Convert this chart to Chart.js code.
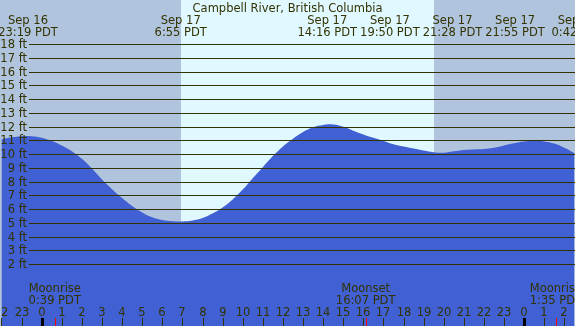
<!DOCTYPE html>
<html>
<head>
<meta charset="utf-8">
<script src="https://cdn.jsdelivr.net/npm/chart.js@4.4.1/dist/chart.umd.min.js"></script>
<style>
  html, body { margin: 0; padding: 0; background: #b0c4de; overflow: hidden; }
  canvas { display: block; }
</style>
</head>
<body>
<canvas id="tideChart" width="575" height="326"></canvas>
<script>
// === DATA (hours counted from Sep 17 0:00 PDT, heights in feet)
const hours = [-2, -1.5, -1, -0.5, 0, 0.5, 1, 1.5, 2, 2.5, 3, 3.5, 4, 4.5, 5, 5.5, 6, 6.5, 7, 7.5,
  8, 8.5, 9, 9.5, 10, 10.5, 11, 11.5, 12, 12.5, 13, 13.5, 14, 14.5, 15, 15.5, 16, 16.5, 17, 17.5,
  18, 18.5, 19, 19.5, 20, 20.5, 21, 21.5, 22, 22.5, 23, 23.5, 24, 24.5, 25, 25.5, 26, 26.5];
const heightFt = [11.08, 11.22, 11.3, 11.3, 11.18, 10.95, 10.62, 10.2, 9.65, 8.95, 8.15, 7.45, 6.8, 6.22, 5.75, 5.4, 5.2, 5.11, 5.1, 5.17,
  5.36, 5.68, 6.12, 6.7, 7.42, 8.25, 9.05, 9.85, 10.55, 11.12, 11.6, 11.95, 12.12, 12.15, 11.98, 11.7, 11.43, 11.18, 10.95, 10.72,
  10.55, 10.4, 10.26, 10.14, 10.1, 10.2, 10.3, 10.34, 10.37, 10.46, 10.63, 10.79, 10.91, 10.97, 10.92, 10.76, 10.46, 10.07];

const ftTicks = [2, 3, 4, 5, 6, 7, 8, 9, 10, 11, 12, 13, 14, 15, 16, 17, 18];
const hourTicks = [-2, -1, 0, 1, 2, 3, 4, 5, 6, 7, 8, 9, 10, 11, 12, 13, 14, 15, 16, 17, 18, 19, 20, 21, 22, 23, 24, 25, 26];
const hourLabels = ['22', '23', '0', '1', '2', '3', '4', '5', '6', '7', '8', '9', '10', '11', '12', '13', '14', '15', '16', '17', '18', '19', '20', '21', '22', '23', '0', '1', '2'];

const sunrise = 6 + 55 / 60;
const sunset = 19 + 31 / 60;

const eventTimes = [-41 / 60, 6 + 55 / 60, 14 + 16 / 60, 19 + 50 / 60, 21 + 28 / 60, 21 + 55 / 60, 24 + 42 / 60];
const eventDates = ['Sep 16', 'Sep 17', 'Sep 17', 'Sep 17', 'Sep 17', 'Sep 17', 'Sep 18'];
const eventClock = ['23:19 PDT', '6:55 PDT', '14:16 PDT', '19:50 PDT', '21:28 PDT', '21:55 PDT', '0:42 PDT'];

const moonTimes = [39 / 60, 16 + 7 / 60, 25 + 35 / 60];
const moonNames = ['Moonrise', 'Moonset', 'Moonrise'];
const moonClock = ['0:39 PDT', '16:07 PDT', '1:35 PDT'];

const title = 'Campbell River, British Columbia';

// ====== COLOURS / FONT
const NIGHT = '#b0c4de';
const DAY = '#e0f8ff';
const WATER = '#4060d4';
const INK = '#333300';
const FONT = '11.5px "DejaVu Sans"';

// spread overlapping labels around the mean of their wanted positions
function spreadLabels(xs, w) {
  let groups = xs.map(x => ({ sum: x, n: 1 }));
  let merged = true;
  while (merged) {
    merged = false;
    for (let i = 0; i < groups.length - 1; i++) {
      const a = groups[i], b = groups[i + 1];
      const ca = a.sum / a.n, cb = b.sum / b.n;
      if (ca + a.n * w / 2 > cb - b.n * w / 2) {
        groups.splice(i, 2, { sum: a.sum + b.sum, n: a.n + b.n });
        merged = true;
        break;
      }
    }
  }
  const out = [];
  groups.forEach(g => {
    const c = g.sum / g.n;
    for (let k = 0; k < g.n; k++) out.push(c + (k - (g.n - 1) / 2) * w);
  });
  return out;
}

const tideDecor = {
  id: 'tideDecor',
  beforeDatasetsDraw(chart) {
    const { ctx, scales: { x }, width, height } = chart;
    ctx.save();
    ctx.fillStyle = NIGHT;
    ctx.fillRect(0, 0, width, height);
    const x0 = Math.round(x.getPixelForValue(sunrise));
    const x1 = Math.round(x.getPixelForValue(sunset));
    ctx.fillStyle = DAY;
    ctx.fillRect(x0, 0, x1 - x0, height);
    ctx.restore();
  },
  afterDatasetsDraw(chart) {
    const { ctx, scales: { x, y }, width, height } = chart;
    ctx.save();
    ctx.font = FONT;
    ctx.fillStyle = INK;
    ctx.strokeStyle = INK;
    ctx.lineWidth = 1;

    // feet lines + labels
    ctx.textAlign = 'right';
    ctx.textBaseline = 'alphabetic';
    ftTicks.forEach(f => {
      const py = Math.round(y.getPixelForValue(f)) + 0.5;
      ctx.beginPath();
      ctx.moveTo(29, py);
      ctx.lineTo(width, py);
      ctx.stroke();
      ctx.fillText(f + ' ft', 27, py + 3.5);
    });

    // title
    ctx.textAlign = 'center';
    ctx.fillText(title, width / 2, 12);

    // tide event labels
    const wLab = Math.max(...eventClock.map(s => ctx.measureText(s).width)) + 3;
    const ex = spreadLabels(eventTimes.map(t => x.getPixelForValue(t)), wLab);
    ex.forEach((px, i) => {
      ctx.fillText(eventDates[i], px, 24);
      ctx.fillText(eventClock[i], px, 36);
    });

    // moon labels
    moonTimes.forEach((t, i) => {
      const px = x.getPixelForValue(t);
      ctx.fillText(moonNames[i], px, 292);
      ctx.fillText(moonClock[i], px, 304);
    });

    // hour ticks + labels
    hourTicks.forEach((h, i) => {
      const px = Math.round(x.getPixelForValue(h));
      ctx.fillText(hourLabels[i], px, 316);
      if (hourLabels[i] === '0') {
        ctx.fillStyle = '#000000';
        ctx.fillRect(px - 1, 318, 3, height - 318);
        ctx.fillStyle = INK;
      } else {
        ctx.fillRect(px, 318, 1, height - 318);
      }
    });
    ctx.fillStyle = '#ff0000';
    moonTimes.forEach(t => {
      const px = Math.round(x.getPixelForValue(t));
      ctx.fillRect(px, 318, 1, height - 318);
    });
    ctx.restore();
  }
};

new Chart(document.getElementById('tideChart'), {
  type: 'line',
  data: {
    datasets: [{
      data: hours.map((h, i) => ({ x: h, y: heightFt[i] })),
      borderWidth: 0,
      borderColor: WATER,
      backgroundColor: WATER,
      pointRadius: 0,
      fill: 'start',
      tension: 0.4
    }]
  },
  options: {
    responsive: false,
    animation: false,
    devicePixelRatio: 1,
    events: [],
    layout: { padding: 0 },
    plugins: { legend: { display: false }, tooltip: { enabled: false } },
    scales: {
      x: { type: 'linear', min: -2.0746, max: 26.532, display: false },
      y: { min: -2.5, max: 21.2, display: false }
    }
  },
  plugins: [tideDecor]
});
</script>
</body>
</html>
